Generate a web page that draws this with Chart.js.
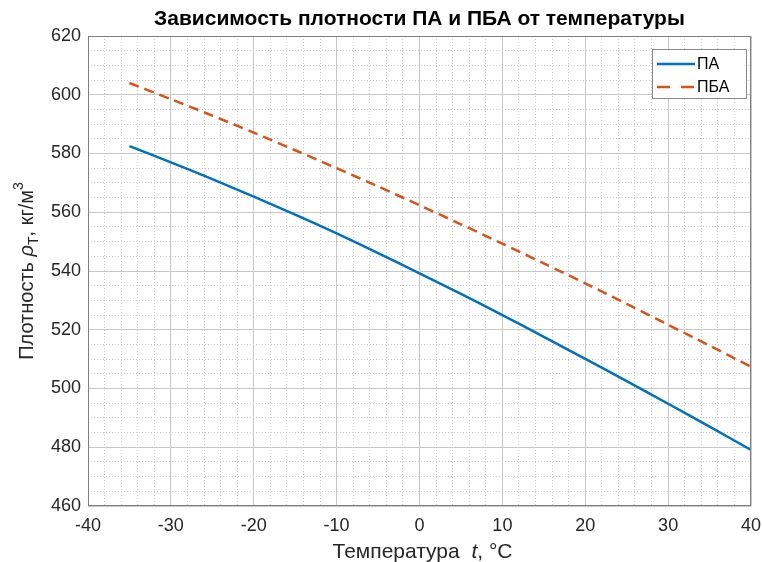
<!DOCTYPE html>
<html><head><meta charset="utf-8">
<script src="https://cdn.jsdelivr.net/npm/chart.js@4"></script>
<style>html,body{margin:0;padding:0;background:#fff}#wrap{width:762px;height:562px}</style>
</head><body><div id="wrap"><canvas id="c" width="762" height="562"></canvas></div>
<script>
// ---- data ----
const temperatures = [-35,-30,-25,-20,-15,-10,-5,0,5,10,15,20,25,30,35,40];
const densityPA  = [582.5,577.0,571.3,565.3,559.2,552.8,546.1,539.2,532.2,525.0,517.6,510.1,502.5,494.8,487.0,479.1];
const densityPBA = [604.0,598.5,592.9,587.1,581.1,575.0,568.8,562.4,555.9,549.3,542.6,535.8,528.8,521.7,514.6,507.4];
const xTickValues = [-40,-30,-20,-10,0,10,20,30,40];
const yTickValues = [460,480,500,520,540,560,580,600,620];
const seriesNames = ['ПА','ПБА'];
const titleText = 'Зависимость плотности ПА и ПБА от температуры';

const FONT = '"Liberation Sans", Arial, Helvetica, sans-serif';
const AX = '#262626';

function pts(xs, ys){ return xs.map((x,i)=>({x:x, y:ys[i]})); }
function range(a, b, step){ const r=[]; for(let v=a; v<=b+1e-9; v+=step) r.push({value:v}); return r; }

function drawRuns(ctx, runs, cx, cy){
  let total = 0;
  runs.forEach(r=>{ ctx.font = r.font; r.w = ctx.measureText(r.text).width; total += r.w; });
  let x = cx - total/2;
  ctx.textAlign = 'left';
  ctx.textBaseline = 'alphabetic';
  runs.forEach(r=>{ ctx.font = r.font; ctx.fillText(r.text, x, cy + (r.dy||0)); x += r.w; });
}

const decor = {
  id:'decor',
  afterDraw(chart){
    const ctx = chart.ctx, a = chart.chartArea;
    ctx.save();
    // frame
    ctx.strokeStyle = '#808080'; ctx.lineWidth = 1;
    ctx.strokeRect(Math.round(a.left)+0.5, Math.round(a.top)+0.5, Math.round(a.right-a.left)-1, Math.round(a.bottom-a.top)-1);
    // title
    ctx.fillStyle = '#000';
    ctx.font = 'bold 21px ' + FONT;
    ctx.textAlign = 'center'; ctx.textBaseline = 'middle';
    ctx.fillText(titleText, (a.left+a.right)/2, 19);
    // x label
    ctx.fillStyle = AX;
    drawRuns(ctx, [
      {text:'Температура  ', font:'21px '+FONT},
      {text:'t', font:'italic 21px '+FONT},
      {text:', °C', font:'21px '+FONT}
    ], (a.left+a.right)/2 + 3, 558);
    // y label
    ctx.save();
    ctx.translate(33, (a.top+a.bottom)/2);
    ctx.rotate(-Math.PI/2);
    drawRuns(ctx, [
      {text:'Плотность ', font:'20px '+FONT},
      {text:'ρ', font:'italic 20px '+FONT},
      {text:'T', font:'14px '+FONT, dy:5},
      {text:', кг/м', font:'20px '+FONT},
      {text:'3', font:'14px '+FONT, dy:-10}
    ], 0, 0);
    ctx.restore();
    // legend
    const lx = 652.5, ly = 49.5, lw = 94, lh = 49;
    ctx.fillStyle = '#fff'; ctx.fillRect(lx, ly, lw, lh);
    ctx.strokeStyle = '#8a8a8a'; ctx.lineWidth = 1; ctx.strokeRect(lx, ly, lw, lh);
    const ds = chart.data.datasets;
    const rows = [64, 87];
    ds.forEach((d,i)=>{
      ctx.strokeStyle = d.borderColor; ctx.lineWidth = d.borderWidth;
      ctx.setLineDash(i===1 ? [13,11] : []);
      ctx.beginPath(); ctx.moveTo(657, rows[i]); ctx.lineTo(695, rows[i]); ctx.stroke();
      ctx.setLineDash([]);
      ctx.fillStyle = '#000'; ctx.font = '16px ' + FONT;
      ctx.textAlign = 'left'; ctx.textBaseline = 'middle';
      ctx.fillText(d.label, 697, rows[i]+1);
    });
    ctx.restore();
  }
};

new Chart(document.getElementById('c'), {
  type:'line',
  data:{ datasets:[
    {label:seriesNames[0], data:pts(temperatures, densityPA), borderColor:'#0072BD', borderWidth:2.5, pointRadius:0, fill:false, tension:0.3},
    {label:seriesNames[1], data:pts(temperatures, densityPBA), borderColor:'#D95319', borderWidth:2.5, borderDash:[10,6], pointRadius:0, fill:false, tension:0.3}
  ]},
  options:{
    responsive:false, animation:false, devicePixelRatio:1,
    layout:{padding:{top:36, right:11, left:0, bottom:0}},
    plugins:{legend:{display:false}, title:{display:false}, tooltip:{enabled:false}},
    scales:{
      x:{type:'linear', position:'bottom', min:-40, max:40,
        afterBuildTicks(s){ s.ticks = xTickValues.map(v=>({value:v})); },
        ticks:{font:{family:FONT, size:18}, color:AX, padding:9, maxRotation:0},
        grid:{color:'#c4c4c4', lineWidth:1, drawTicks:false},
        border:{display:false},
        afterFit(s){ s.height = 56; s.paddingLeft = 0; s.paddingRight = 0; }
      },
      y:{type:'linear', position:'left', min:460, max:620,
        afterBuildTicks(s){ s.ticks = yTickValues.map(v=>({value:v})); },
        ticks:{font:{family:FONT, size:18}, color:AX, padding:7},
        grid:{color:'#c4c4c4', lineWidth:1, drawTicks:false},
        border:{display:false},
        afterFit(s){ s.width = 88; s.paddingTop = 0; s.paddingBottom = 0; }
      },
      xMinor:{type:'linear', position:'top', min:-40, max:40, z:-1,
        afterBuildTicks(s){ s.ticks = range(-40, 40, 2); },
        ticks:{display:false},
        grid:{color:'#cdcdcd', lineWidth:1, drawTicks:false},
        border:{display:false, dash:[1,2]},
        afterFit(s){ s.height = 0; s.paddingLeft = 0; s.paddingRight = 0; }
      },
      yMinor:{type:'linear', position:'right', min:460, max:620, z:-1,
        afterBuildTicks(s){ s.ticks = range(460, 620, 5); },
        ticks:{display:false},
        grid:{color:'#cdcdcd', lineWidth:1, drawTicks:false},
        border:{display:false, dash:[1,2]},
        afterFit(s){ s.width = 0; s.paddingTop = 0; s.paddingBottom = 0; }
      }
    }
  },
  plugins:[decor]
});
</script>
</body></html>
